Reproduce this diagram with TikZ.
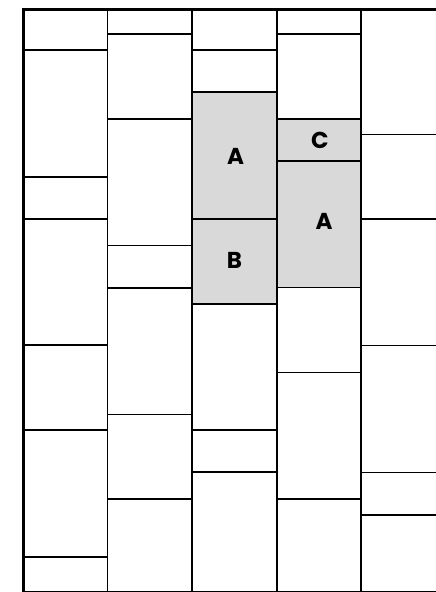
\documentclass[tikz,border=0pt]{standalone}
\usepackage{fontspec}
\setmainfont{Poppins}
\definecolor{tilegray}{HTML}{D9D9D9}

\begin{document}
\begin{tikzpicture}[
		x=1pt, y=-1pt,
		wall/.style={line width=3pt},
		joint/.style={line width=1.4pt},
		tile/.style={fill=tilegray},
		every node/.style={
			font=\fontsize{23}{27}\selectfont\bfseries,
			inner sep=0pt
		}
		]
		\useasboundingbox (0,0) rectangle (436,592);
		
		% Gray tiles
		\fill[tile] (192,92) rectangle (277,304);
		\fill[tile] (277,119) rectangle (361,287.5);
		
		% Column joints
		\foreach \x in {107.5,192,277,361}
		\draw[joint] (\x,9) -- (\x,592);
		
		% Row joints, column by column
		\foreach \y in {50,177,219,345,430,557}
		\draw[joint] (23.5,\y) -- (107.5,\y);
		\foreach \y in {34,119,245.5,288,414.5,499}
		\draw[joint] (107.5,\y) -- (192,\y);
		\foreach \y in {50,92,219,304,430,472}
		\draw[joint] (192,\y) -- (277,\y);
		\foreach \y in {34,119,161,287.5,372.5,499}
		\draw[joint] (277,\y) -- (361,\y);
		\foreach \y in {134.5,219,345.5,472.5,515}
		\draw[joint] (361,\y) -- (436,\y);
		
		% Border
		\draw[wall] (436,9) -- (23.5,9) -- (23.5,592);
		\draw[joint] (23.5,591.3) -- (436,591.3);
		
		% Labels
		\node (a1) at (235.5,156) {A};
		\node (b) at (234.5,260) {B};
		\node (c) at (320,140) {C};
		\node (a2) at (324,221) {A};
	\end{tikzpicture}
\end{document}
